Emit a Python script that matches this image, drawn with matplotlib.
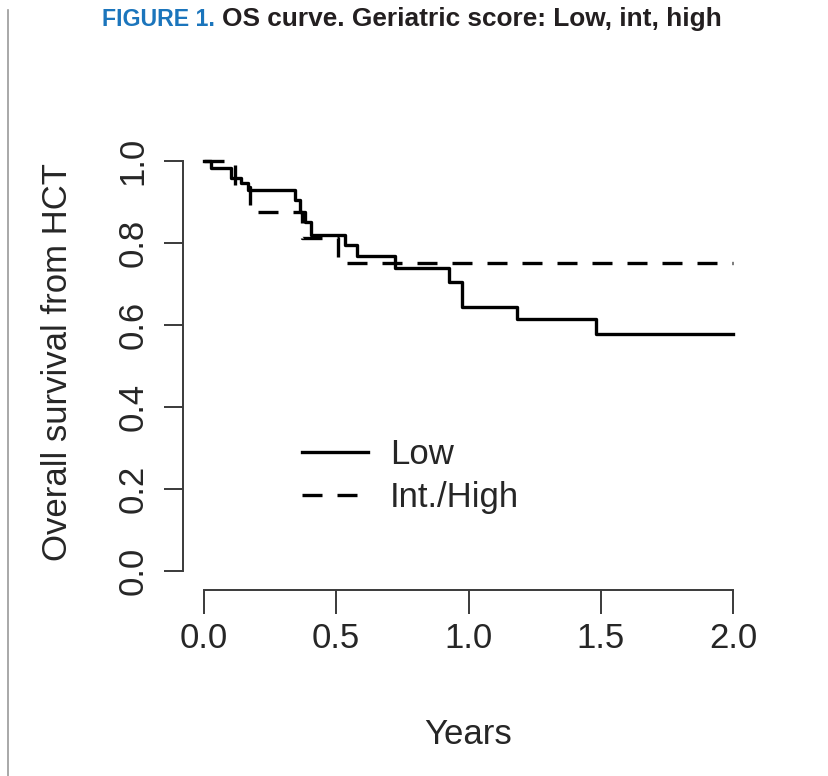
import matplotlib
matplotlib.use("Agg")
import matplotlib.pyplot as plt
from matplotlib.lines import Line2D

# Kaplan-Meier step data (years, survival)
low_t = [0.0, 0.026, 0.102, 0.14, 0.166, 0.344, 0.363, 0.382, 0.405, 0.533,
         0.578, 0.722, 0.926, 0.975, 1.183, 1.482, 2.0]
low_s = [1.0, 0.983, 0.958, 0.946, 0.929, 0.905, 0.876, 0.851, 0.82, 0.795,
         0.768, 0.739, 0.705, 0.644, 0.615, 0.578, 0.578]

high_t = [0.0, 0.117, 0.174, 0.37, 0.507, 2.0]
high_s = [1.0, 0.9375, 0.875, 0.8125, 0.75, 0.75]

x_ticks = [0.0, 0.5, 1.0, 1.5, 2.0]
y_ticks = [0.0, 0.2, 0.4, 0.6, 0.8, 1.0]
legend_labels = ["Low", "Int./High"]

plt.rcParams['font.family'] = ['Liberation Sans', 'DejaVu Sans']
txt = '#262626'
axc = '#3a3a3a'

fig = plt.figure(figsize=(8.29, 7.76), dpi=100)
ax = fig.add_axes([0.2205, 0.2430, 0.6893, 0.5707])

ax.step(low_t, low_s, where='post', color='black', lw=2.4)
ax.step(high_t, high_s, where='post', color='black', lw=2.4, dashes=(6, 4.5))

ax.set_xlim(-0.08, 2.08)
ax.set_ylim(-0.04, 1.04)

for s in ['top', 'right']:
    ax.spines[s].set_visible(False)
ax.spines['left'].set_bounds(0, 1)
ax.spines['bottom'].set_bounds(0, 2)
ax.spines['bottom'].set_position(('outward', 2))
for s in ['left', 'bottom']:
    ax.spines[s].set_color(axc)
    ax.spines[s].set_linewidth(1.4)

ax.set_xticks(x_ticks)
ax.set_xticklabels([f"{v:.1f}" for v in x_ticks])
ax.set_yticks(y_ticks)
ax.set_yticklabels([f"{v:.1f}" for v in y_ticks], rotation=90, va='center')
ax.tick_params(axis='x', length=17, width=1.4, color=axc, pad=6,
               labelsize=25, labelcolor=txt)
ax.tick_params(axis='y', length=14, width=1.4, color=axc, pad=10,
               labelsize=25, labelcolor=txt)

ax.set_xlabel("Years", fontsize=25, color=txt)
ax.xaxis.set_label_coords(0.5, -0.295)
ax.set_ylabel("Overall survival from HCT", fontsize=25, color=txt)
ax.yaxis.set_label_coords(-0.19, 0.51)

handles = [Line2D([], [], color='black', lw=2.4),
           Line2D([], [], color='black', lw=2.4, dashes=(6, 4.5))]
leg = ax.legend(handles, legend_labels, loc='upper left',
                bbox_to_anchor=(0.2086, 0.338), frameon=False, fontsize=25,
                handlelength=1.9, handletextpad=0.63, labelspacing=0.3,
                borderpad=0, borderaxespad=0)
for t in leg.get_texts():
    t.set_color(txt)

# figure title, clipped at the top like the source page; sized to the source widths
base = 1 - 26 / 776
t1 = fig.text(215 / 829, base, "FIGURE 1.", color='#1b75bc', fontsize=20,
              fontweight='bold', va='baseline', ha='right')
t2 = fig.text(222 / 829, base, "OS curve. Geriatric score: Low, int, high",
              color='#231f20', fontsize=20, fontweight='bold',
              va='baseline', ha='left')
r = fig.canvas.get_renderer()
for t, w in [(t1, 113), (t2, 500)]:
    cur = t.get_window_extent(r).width
    t.set_fontsize(20 * w / cur)

# page border line on the left
fig.add_artist(Line2D([8 / 829, 8 / 829], [0, 1 - 10 / 776],
                      transform=fig.transFigure, color='#9a9a9a', lw=1.2))

fig.savefig('out.png', dpi=100)
